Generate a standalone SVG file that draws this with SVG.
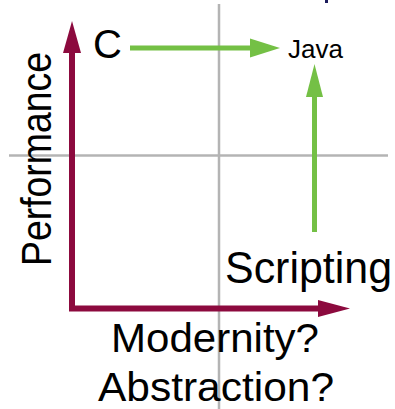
<svg xmlns="http://www.w3.org/2000/svg" width="395" height="409" viewBox="0 0 395 409">
<style>
.grid{stroke:#b4b4b4;stroke-width:2.5;fill:none}
.axis{stroke:#8c0a3e;stroke-width:6;fill:none;stroke-linejoin:miter}
.axhead{fill:#8c0a3e}
.gr{stroke:#74c045;stroke-width:5;fill:none}
.grhead{fill:#74c045}
text{font-family:"Liberation Sans",Arial,sans-serif;fill:#000}
</style>
<rect width="395" height="409" fill="#fff"/>
<g id="grid">
<line class="grid" x1="219" y1="4" x2="219" y2="409"/>
<line class="grid" x1="9" y1="155.5" x2="388" y2="155.5"/>
</g>
<rect id="title-fragment" x="325" y="0" width="3" height="3" fill="#1c1c5c"/>
<g id="connectors">
<polyline class="axis" points="72,53 72,308.5 320,308.5"/>
<polygon class="axhead" points="63,53 81,53 72,21"/>
<polygon class="axhead" points="318,300 318,317 350,308.5"/>
<line class="gr" x1="130" y1="48" x2="252" y2="48"/>
<polygon class="grhead" points="250,38.5 250,57.5 280,48"/>
<line class="gr" x1="314.5" y1="232" x2="314.5" y2="95"/>
<polygon class="grhead" points="306,97 323,97 314.5,64"/>
</g>
<g id="node-c"><text x="93" y="58" font-size="40">C</text></g>
<g id="node-java"><text x="288" y="57.5" font-size="26" textLength="55" lengthAdjust="spacingAndGlyphs">Java</text></g>
<g id="node-scripting"><text x="225" y="283" font-size="44" textLength="167" lengthAdjust="spacingAndGlyphs">Scripting</text></g>
<g id="label-performance"><text transform="translate(51,266) rotate(-90)" x="0" y="0" font-size="42" textLength="214" lengthAdjust="spacingAndGlyphs">Performance</text></g>
<g id="label-x"><text x="111" y="352" font-size="41" textLength="208" lengthAdjust="spacingAndGlyphs">Modernity?</text>
<text x="98" y="400.5" font-size="40" textLength="236" lengthAdjust="spacingAndGlyphs">Abstraction?</text></g>
</svg>
